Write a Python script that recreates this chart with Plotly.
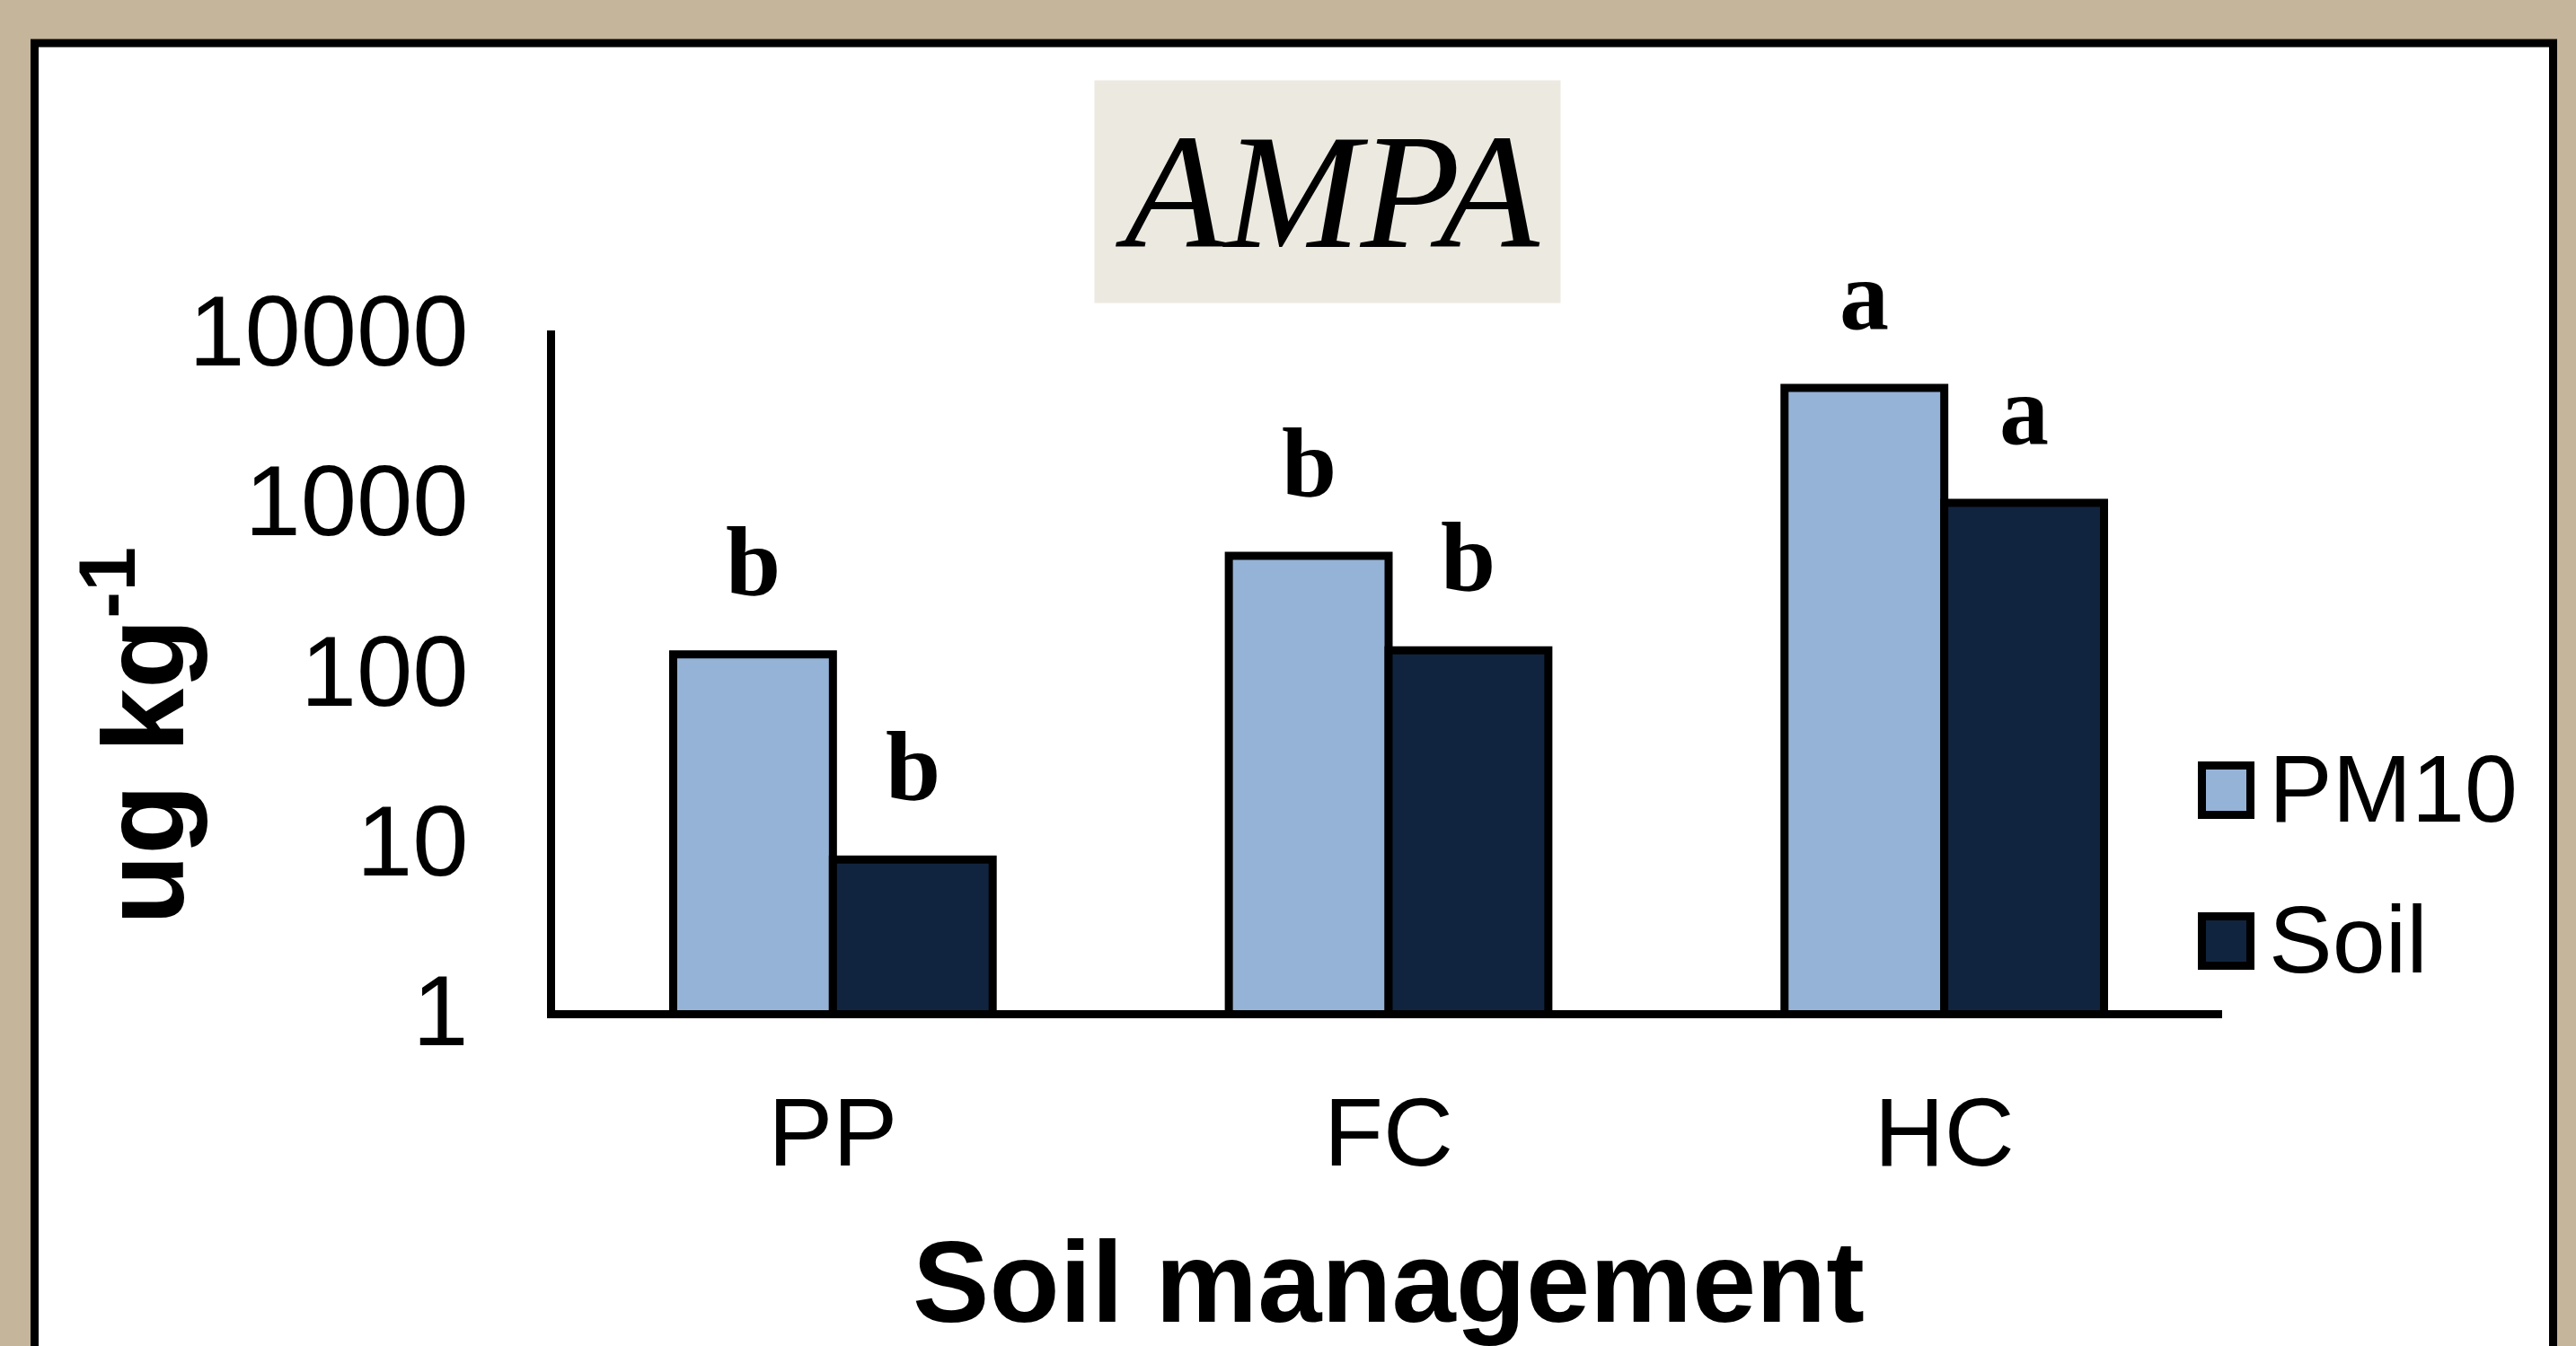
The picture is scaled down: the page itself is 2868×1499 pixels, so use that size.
import plotly.graph_objects as go
import math

# ---------------- data ----------------
categories = ["PP", "FC", "HC"]
series_names = ["PM10", "Soil"]
pm10_values = [124, 472, 4590]
soil_values = [7.7, 131, 967]
pm10_letters = ["b", "b", "a"]
soil_letters = ["b", "b", "a"]
y_tick_values = [1, 10, 100, 1000, 10000]
y_tick_labels = ["1", "10", "100", "1000", "10000"]
chart_title = "AMPA"
x_title = "Soil management"
y_title = "ug kg<sup>-1</sup>"

# ---------------- style ----------------
W, H = 2868, 1499
L, R, T, B = 618, 2474, 368, 1125
PM10_COLOR = "#95B3D7"
SOIL_COLOR = "#11243F"
FRAME_BG = "#C4B59B"
TITLE_BG = "#ECEAE0"
BARGAP = 0.425
SANS = "Liberation Sans, Arial, sans-serif"
SERIF = "Liberation Serif, Times New Roman, serif"


def xp(px):
    return (px - L) / (R - L)


def yp(py):
    return (B - py) / (B - T)


fig = go.Figure()
fig.add_trace(go.Bar(x=categories, y=pm10_values, name=series_names[0],
                     marker=dict(color=PM10_COLOR, line=dict(color="black", width=9)),
                     showlegend=False))
fig.add_trace(go.Bar(x=categories, y=soil_values, name=series_names[1],
                     marker=dict(color=SOIL_COLOR, line=dict(color="black", width=9)),
                     showlegend=False))

annotations = []
# significance letters above bars
off = (1 - BARGAP) / 4
for i, (v, lt) in enumerate(zip(pm10_values, pm10_letters)):
    annotations.append(dict(x=i - off, y=math.log10(v), xref="x", yref="y", text="<b>%s</b>" % lt,
                            showarrow=False, xanchor="center", yanchor="bottom", yshift=40,
                            font=dict(family=SERIF, size=110, color="black")))
for i, (v, lt) in enumerate(zip(soil_values, soil_letters)):
    annotations.append(dict(x=i + off, y=math.log10(v), xref="x", yref="y", text="<b>%s</b>" % lt,
                            showarrow=False, xanchor="center", yanchor="bottom", yshift=40,
                            font=dict(family=SERIF, size=110, color="black")))

# chart title in a box
annotations.append(dict(x=xp(1478), y=yp(213), xref="paper", yref="paper",
                        text="<i>%s</i>" % chart_title, showarrow=False,
                        xanchor="center", yanchor="middle", bgcolor=TITLE_BG, borderpad=23,
                        font=dict(family=SERIF, size=182, color="black")))
# y axis title
annotations.append(dict(x=xp(150), y=yp(820), xref="paper", yref="paper",
                        text="<b>%s</b>" % y_title, showarrow=False, textangle=-90,
                        xanchor="center", yanchor="middle",
                        font=dict(family=SANS, size=128, color="black")))

shapes = [
    dict(type="rect", xref="paper", yref="paper", layer="below",
         x0=xp(38.5), x1=xp(2842.5), y0=yp(1560), y1=yp(48),
         line=dict(color="black", width=9), fillcolor="white"),
]

# manual legend
legend_centers = [880, 1048]
legend_colors = [PM10_COLOR, SOIL_COLOR]
for name, cy, col in zip(series_names, legend_centers, legend_colors):
    shapes.append(dict(type="rect", xref="paper", yref="paper",
                       x0=xp(2451.5), x1=xp(2505.5), y0=yp(cy + 27.5), y1=yp(cy - 27.5),
                       line=dict(color="black", width=9), fillcolor=col))
    annotations.append(dict(x=xp(2524), y=yp(cy - 2), xref="paper", yref="paper",
                            text=name, showarrow=False, xanchor="left", yanchor="middle",
                            font=dict(family=SANS, size=106, color="black")))

fig.update_layout(
    width=W, height=H,
    margin=dict(l=L, r=W - R, t=T, b=H - B, pad=0, autoexpand=False),
    paper_bgcolor=FRAME_BG,
    plot_bgcolor="rgba(0,0,0,0)",
    barmode="group", bargap=BARGAP, bargroupgap=0,
    showlegend=False,
    shapes=shapes,
    annotations=annotations,
    xaxis=dict(type="category", range=[-0.5, 2.5], showline=True, linecolor="black", linewidth=9,
               showgrid=False, zeroline=False, ticks="", ticklabelstandoff=34, automargin=False,
               tickfont=dict(family=SANS, size=108, color="black"),
               title=dict(text="<b>%s</b>" % x_title, standoff=82,
                          font=dict(family=SANS, size=128, color="black"))),
    yaxis=dict(type="log", range=[0, 4], showline=True, linecolor="black", linewidth=9,
               showgrid=False, zeroline=False, ticks="", ticklabelstandoff=65, automargin=False,
               tickvals=y_tick_values, ticktext=y_tick_labels,
               tickfont=dict(family=SANS, size=112, color="black")),
)

post = (
    "document.documentElement.style.margin='0';"
    "document.documentElement.style.overflow='hidden';"
    "document.body.style.margin='0';"
    "document.body.style.overflow='hidden';"
    "var gd=document.getElementsByClassName('plotly-graph-div')[0];"
    "gd.style.position='fixed';gd.style.left='0px';gd.style.top='0px';"
)
fig.write_html("out.html", config={"displayModeBar": False, "staticPlot": True}, post_script=post)
